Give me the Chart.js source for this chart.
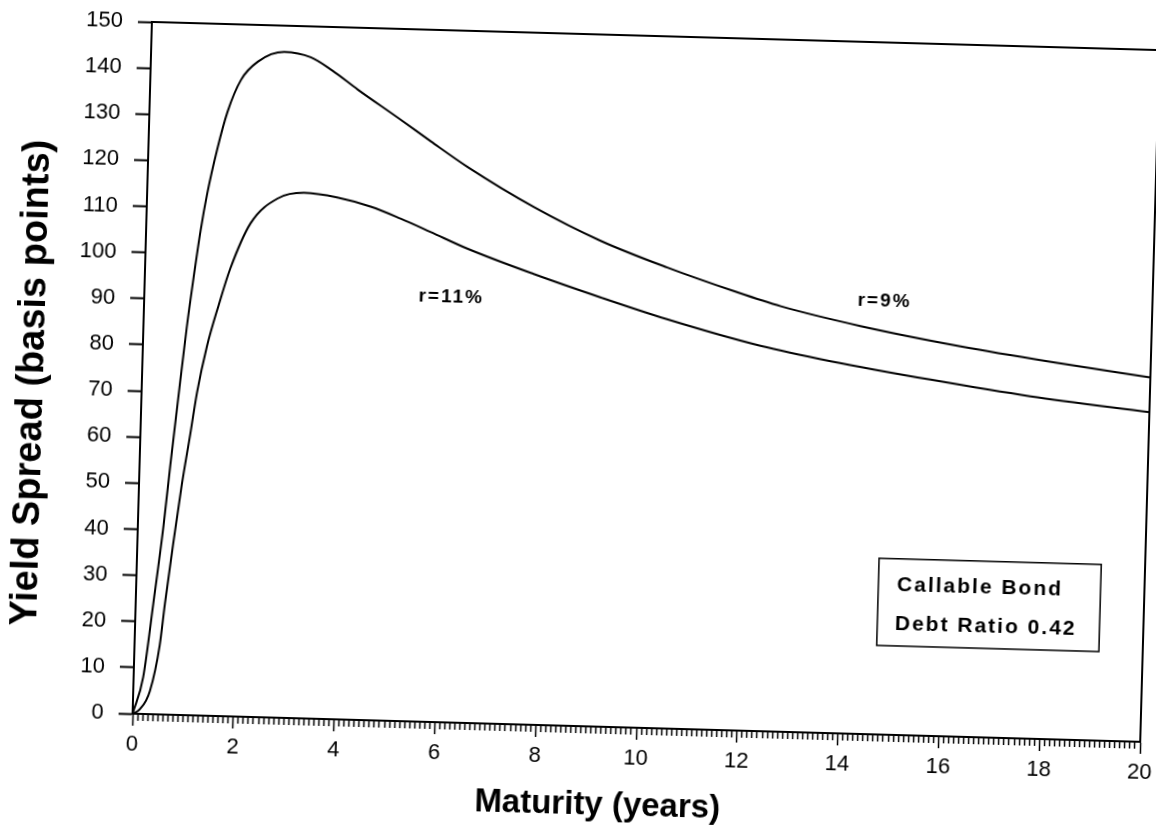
<!DOCTYPE html>
<html>
<head>
<meta charset="utf-8">
<script src="https://cdn.jsdelivr.net/npm/chart.js@4"></script>
<style>
html, body { margin:0; padding:0; width:1156px; height:837px; overflow:hidden; background:#fff; }
#wrap { position:absolute; left:-22px; top:-21px; width:1200px; height:880px; transform:rotate(1.6deg); transform-origin:50% 50%; }
canvas { display:block; }
</style>
</head>
<body>
<div id="wrap"><canvas id="c" width="1200" height="880"></canvas></div>
<script>
// ---- data ----
const maturityR9 = [0, 0.19, 0.35, 0.51, 0.61, 0.75, 0.86, 0.97, 1.08, 1.19, 1.37, 1.55, 1.8, 2.12, 2.64, 3.17, 3.6, 4.12, 4.95, 5.6, 6.34, 7.68, 9.02, 10.36, 11.69, 12.63, 14.22, 16.22, 18.22, 20];
const spreadR9   = [0, 8, 24, 41, 54, 71, 84, 95, 105, 113, 123, 131, 138, 142, 144.3, 143.3, 140.6, 136.6, 130.6, 125.8, 120.5, 112.2, 105.3, 99.9, 95.2, 92.2, 88.4, 84.6, 81.5, 79];
const maturityR11 = [0, 0.14, 0.33, 0.5, 0.58, 0.71, 0.85, 0.99, 1.1, 1.27, 1.48, 1.69, 2.07, 2.59, 3.11, 3.77, 4.44, 5.04, 5.64, 6.38, 7.71, 9.06, 10.38, 12.25, 13.65, 15.64, 17.63, 20];
const spreadR11   = [0, 1, 5, 15, 24, 37, 50, 61, 70, 80, 89, 97, 107, 112.5, 113.9, 113.1, 111.3, 108.9, 106.2, 102.8, 97.7, 93, 88.7, 83.5, 80.6, 77.2, 74.2, 71.5];
const xMajorTicks = [0, 2, 4, 6, 8, 10, 12, 14, 16, 18, 20];
const yTickValues = [0, 10, 20, 30, 40, 50, 60, 70, 80, 90, 100, 110, 120, 130, 140, 150];
const seriesLabels = ['r=9%', 'r=11%'];
const boxLines = ['Callable Bond', 'Debt Ratio 0.42'];
const xTitle = 'Maturity (years)';
const yTitle = 'Yield Spread (basis points)';

const isMajor = v => xMajorTicks.some(m => Math.abs(m - v) < 1e-6);
const FONT = '"Liberation Sans", Arial, Helvetica, sans-serif';

const overlay = {
  id: 'overlay',
  afterDraw(chart) {
    const { ctx, chartArea: a, scales: { x, y } } = chart;
    ctx.save();
    ctx.strokeStyle = '#000';
    ctx.fillStyle = '#000';
    // frame: top and right
    ctx.lineWidth = 2;
    ctx.beginPath();
    ctx.moveTo(a.left, a.top);
    ctx.lineTo(a.right, a.top);
    ctx.lineTo(a.right, a.bottom);
    ctx.stroke();

    // curve labels
    ctx.font = 'bold 19px ' + FONT;
    try { ctx.letterSpacing = '2px'; } catch (e) {}
    ctx.textBaseline = 'middle';
    ctx.textAlign = 'left';
    ctx.fillText(seriesLabels[1], x.getPixelForValue(5.44), y.getPixelForValue(92.1));
    ctx.fillText(seriesLabels[0], x.getPixelForValue(14.15), y.getPixelForValue(93.9));

    // info box
    const bx1 = x.getPixelForValue(14.72), bx2 = x.getPixelForValue(19.13);
    const by1 = y.getPixelForValue(38.2), by2 = y.getPixelForValue(19.3);
    ctx.lineWidth = 1.5;
    ctx.strokeRect(bx1, by1, bx2 - bx1, by2 - by1);
    ctx.font = 'bold 21px ' + FONT;
    ctx.fillText(boxLines[0], x.getPixelForValue(15.09), y.getPixelForValue(32.5));
    ctx.fillText(boxLines[1], x.getPixelForValue(15.07), y.getPixelForValue(24.0));

    // axis titles
    try { ctx.letterSpacing = '0px'; } catch (e) {}
    ctx.textAlign = 'center';
    ctx.font = 'bold 33px ' + FONT;
    ctx.fillText(xTitle, a.left + 467, a.bottom + 79);
    ctx.save();
    ctx.translate(a.left - 109, a.top + 364);
    ctx.rotate(-Math.PI / 2);
    ctx.font = 'bold 38px ' + FONT;
    ctx.fillText(yTitle, 0, 0);
    ctx.restore();
    ctx.restore();
  }
};

new Chart(document.getElementById('c'), {
  type: 'line',
  data: {
    datasets: [
      { label: seriesLabels[0], data: maturityR9.map((m, i) => ({ x: m, y: spreadR9[i] })),
        borderColor: '#000', borderWidth: 2, pointRadius: 0, fill: false, cubicInterpolationMode: 'monotone' },
      { label: seriesLabels[1], data: maturityR11.map((m, i) => ({ x: m, y: spreadR11[i] })),
        borderColor: '#000', borderWidth: 2, pointRadius: 0, fill: false, cubicInterpolationMode: 'monotone' }
    ]
  },
  options: {
    responsive: false,
    animation: false,
    events: [],
    layout: { padding: { left: 0, right: 29, top: 55, bottom: 0 } },
    plugins: { legend: { display: false }, tooltip: { enabled: false } },
    scales: {
      x: {
        type: 'linear', min: 0, max: 20, position: 'bottom',
        afterFit: s => { s.height = 133; },
        border: { display: true, color: '#000', width: 2 },
        grid: {
          drawOnChartArea: false, drawTicks: true, tickLength: 12, tickColor: '#000', tickWidth: 1.5,
          tickBorderDash: c => (c.tick && isMajor(c.tick.value)) ? [] : [6, 100]
        },
        ticks: {
          stepSize: 0.1, maxTicksLimit: 400, autoSkip: false, maxRotation: 0, minRotation: 0,
          padding: 6, color: '#000', font: { family: FONT, size: 22 },
          callback: v => isMajor(v) ? String(Math.round(v)) : ''
        }
      },
      y: {
        min: 0, max: 150,
        afterFit: s => { s.width = 163; },
        afterBuildTicks: s => { s.ticks = yTickValues.map(v => ({ value: v })); },
        border: { display: true, color: '#000', width: 2 },
        grid: { drawOnChartArea: false, drawTicks: true, tickLength: 14, tickColor: '#000', tickWidth: 2 },
        ticks: { padding: 15, color: '#000', font: { family: FONT, size: 22 } }
      }
    }
  },
  plugins: [overlay]
});
</script>
</body>
</html>
